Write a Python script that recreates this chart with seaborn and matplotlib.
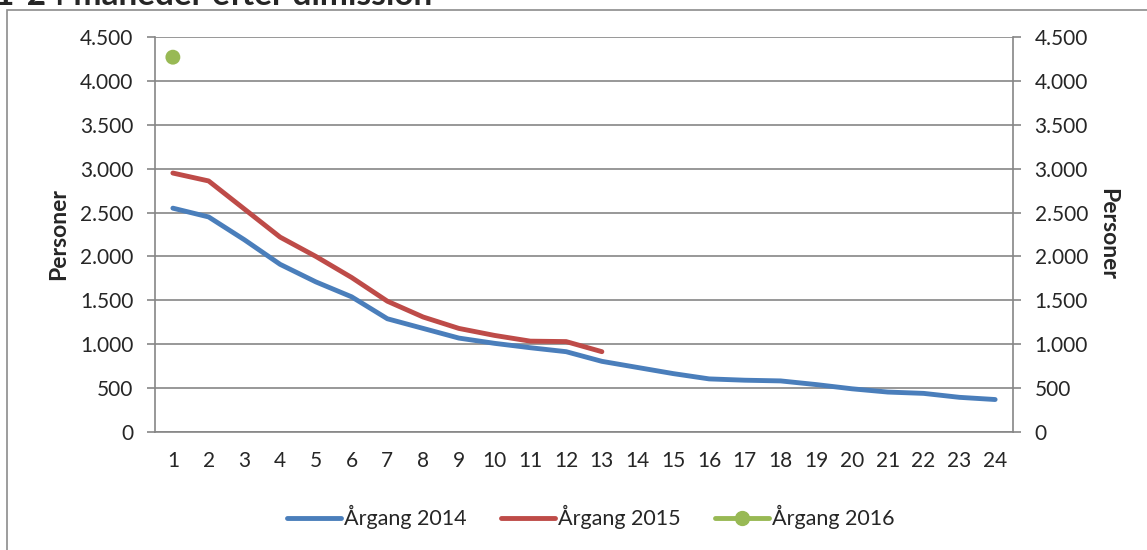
import numpy as np
import matplotlib
matplotlib.use("Agg")
import matplotlib.pyplot as plt
import seaborn as sns
import pandas as pd
from matplotlib.ticker import FuncFormatter, MultipleLocator
from matplotlib.lines import Line2D
from matplotlib.patches import Rectangle

# data
maaneder = list(range(1, 25))
aargang_2014 = [2550, 2450, 2190, 1910, 1710, 1540, 1290, 1180, 1070, 1010, 960, 915,
                805, 735, 665, 605, 590, 582, 540, 492, 455, 440, 395, 370]
aargang_2015 = [2950, 2860, 2540, 2220, 2000, 1760, 1490, 1310, 1180, 1100, 1035, 1030, 915]
aargang_2016 = [4270]
serie_navne = ["Årgang 2014", "Årgang 2015", "Årgang 2016"]
farver = ["#4A7EBB", "#BE4B48", "#98B954"]

sns.set_style("white")
plt.rcParams["font.family"] = ["Lato", "DejaVu Sans"]

fig = plt.figure(figsize=(11.47, 5.5), dpi=100)
ax = fig.add_axes([155 / 1147, 1 - 432 / 550, 858 / 1147, 395 / 550])

df14 = pd.DataFrame({"x": maaneder[:len(aargang_2014)], "y": aargang_2014})
df15 = pd.DataFrame({"x": maaneder[:len(aargang_2015)], "y": aargang_2015})
df16 = pd.DataFrame({"x": maaneder[:len(aargang_2016)], "y": aargang_2016})

lw = 3.5
sns.lineplot(data=df14, x="x", y="y", ax=ax, color=farver[0], lw=lw,
             solid_capstyle="round", zorder=3)
sns.lineplot(data=df15, x="x", y="y", ax=ax, color=farver[1], lw=lw,
             solid_capstyle="round", zorder=3)
sns.scatterplot(data=df16, x="x", y="y", ax=ax, color=farver[2], s=115,
                edgecolor="none", zorder=4)

grå = "#868686"
fs = 15
ax.set_xlim(0.5, 24.5)
ax.set_ylim(0, 4500)
ax.yaxis.set_major_locator(MultipleLocator(500))
fmt = FuncFormatter(lambda v, p: f"{int(v):,}".replace(",", "."))
ax.yaxis.set_major_formatter(fmt)
ax.set_xticks(maaneder)
ax.set_xticks(np.arange(0.5, 25, 1), minor=True)
ax.tick_params(axis="x", which="major", length=0, pad=14, labelsize=fs)
ax.tick_params(axis="x", which="minor", length=5, color=grå, width=1.2, direction="out")
ax.tick_params(axis="y", length=5.5, color=grå, width=1.2, labelsize=fs, pad=10, left=True)
ax.grid(axis="y", color=grå, lw=1.2)
ax.grid(axis="x", visible=False)
for s in ["left", "bottom", "right"]:
    ax.spines[s].set_color(grå)
    ax.spines[s].set_linewidth(1.2)
ax.spines["top"].set_visible(False)
ax.set_xlabel("")
ax.set_ylabel("Personer", fontsize=16.5, fontweight="bold", labelpad=8)

ax2 = ax.twinx()
ax2.set_ylim(0, 4500)
ax2.yaxis.set_major_locator(MultipleLocator(500))
ax2.yaxis.set_major_formatter(fmt)
ax2.tick_params(axis="y", length=5.5, color=grå, width=1.2, labelsize=fs, pad=10, right=True)
for s in ax2.spines.values():
    s.set_visible(False)
ax2.set_ylabel("Personer", fontsize=16.5, fontweight="bold", rotation=270, labelpad=22)

handles = [
    Line2D([], [], color=farver[0], lw=lw, solid_capstyle="round"),
    Line2D([], [], color=farver[1], lw=lw, solid_capstyle="round"),
    Line2D([], [], color=farver[2], lw=lw, marker="o", markersize=10, solid_capstyle="round"),
]
fig.legend(handles, serie_navne, loc="center", bbox_to_anchor=(591 / 1147, 1 - 517 / 550),
           ncol=3, frameon=False, fontsize=15.5, handlelength=2.5, handletextpad=0.15,
           columnspacing=1.6)

# ydre ramme og afskaaret titel
fig.add_artist(Rectangle((7 / 1147, -0.05), 1.2, 1 - 10 / 550 + 0.05,
                         transform=fig.transFigure, fill=False, ec="#8c8c8c", lw=1.2))
fig.text(-0.004, 1 - 5 / 550, "1-24 måneder efter dimission", fontsize=24, fontweight="bold",
         ha="left", va="baseline")

fig.savefig("out.png", dpi=100)
